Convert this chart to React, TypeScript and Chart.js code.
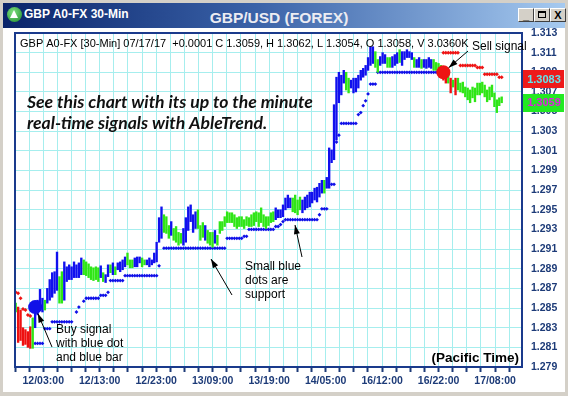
import React, { useEffect, useRef } from "react";
import { Chart, registerables } from "chart.js";

Chart.register(...registerables);

// ---------------- DATA ----------------
const X_TICK_LABELS = ["12/03:00", "12/13:00", "12/23:00", "13/09:00", "13/19:00", "14/05:00", "16/12:00", "16/22:00", "17/08:00"];
const Y_TICKS = [1.279, 1.281, 1.283, 1.285, 1.287, 1.289, 1.291, 1.293, 1.295, 1.297, 1.299, 1.301, 1.303, 1.305, 1.307, 1.309, 1.311, 1.313];

const HIGH = [
  1.2855, 1.2851, 1.2848, 1.2830, 1.2828, 1.2826, 1.2831, 1.2840, 1.2846, 1.2858,
  1.2869, 1.2860, 1.2858, 1.2870, 1.2879, 1.2886, 1.2887, 1.2907, 1.2882, 1.2887,
  1.2897, 1.2892, 1.2894, 1.2892, 1.2897, 1.2894, 1.2896, 1.2901, 1.2899, 1.2897,
  1.2895, 1.2892, 1.2891, 1.2892, 1.2891, 1.2893, 1.2886, 1.2884, 1.2894, 1.2894,
  1.2896, 1.2892, 1.2896, 1.2897, 1.2899, 1.2902, 1.2906, 1.2899, 1.2899, 1.2901,
  1.2902, 1.2902, 1.2901, 1.2899, 1.2899, 1.2901, 1.2899, 1.2906, 1.2917, 1.2942,
  1.2953, 1.2945, 1.2943, 1.2934, 1.2938, 1.2931, 1.2933, 1.2927, 1.2926, 1.2931,
  1.2942, 1.2953, 1.2955, 1.2945, 1.2948, 1.2950, 1.2934, 1.2937, 1.2934, 1.2929,
  1.2927, 1.2927, 1.2929, 1.2924, 1.2938, 1.2938, 1.2943, 1.2948, 1.2947, 1.2947,
  1.2945, 1.2942, 1.2943, 1.2943, 1.2940, 1.2943, 1.2942, 1.2945, 1.2947, 1.2948,
  1.2947, 1.2952, 1.2945, 1.2943, 1.2943, 1.2947, 1.2948, 1.2952, 1.2950, 1.2950,
  1.2955, 1.2962, 1.2965, 1.2962, 1.2962, 1.2965, 1.2960, 1.2963, 1.2960, 1.2963,
  1.2965, 1.2968, 1.2968, 1.2972, 1.2973, 1.2977, 1.2980, 1.2980, 1.2983, 1.3013,
  1.3011, 1.3057, 1.3085, 1.3090, 1.3087, 1.3092, 1.3090, 1.3084, 1.3082, 1.3084,
  1.3084, 1.3087, 1.3092, 1.3094, 1.3097, 1.3105, 1.3116, 1.3116, 1.3111, 1.3103,
  1.3106, 1.3110, 1.3108, 1.3105, 1.3105, 1.3106, 1.3108, 1.3110, 1.3113, 1.3111,
  1.3111, 1.3113, 1.3111, 1.3110, 1.3105, 1.3103, 1.3105, 1.3103, 1.3103, 1.3103,
  1.3105, 1.3103, 1.3103, 1.3100, 1.3099, 1.3097, 1.3092, 1.3089, 1.3087, 1.3084,
  1.3082, 1.3084, 1.3084, 1.3079, 1.3080, 1.3075, 1.3074, 1.3072, 1.3075, 1.3074,
  1.3079, 1.3079, 1.3080, 1.3077, 1.3072, 1.3075, 1.3077, 1.3069, 1.3062, 1.3064,
  1.3065,
];

const LOW = [
  1.2846, 1.2815, 1.2817, 1.2812, 1.2813, 1.2810, 1.2809, 1.2809, 1.2830, 1.2843,
  1.2848, 1.2846, 1.2848, 1.2855, 1.2858, 1.2861, 1.2865, 1.2868, 1.2855, 1.2855,
  1.2858, 1.2877, 1.2879, 1.2879, 1.2881, 1.2881, 1.2881, 1.2884, 1.2884, 1.2883,
  1.2881, 1.2879, 1.2878, 1.2879, 1.2877, 1.2881, 1.2877, 1.2876, 1.2882, 1.2886,
  1.2884, 1.2884, 1.2889, 1.2887, 1.2889, 1.2892, 1.2894, 1.2891, 1.2891, 1.2892,
  1.2892, 1.2896, 1.2892, 1.2894, 1.2894, 1.2892, 1.2894, 1.2896, 1.2897, 1.2917,
  1.2921, 1.2927, 1.2926, 1.2921, 1.2924, 1.2919, 1.2917, 1.2914, 1.2916, 1.2914,
  1.2917, 1.2929, 1.2938, 1.2927, 1.2931, 1.2931, 1.2919, 1.2922, 1.2919, 1.2916,
  1.2914, 1.2912, 1.2916, 1.2914, 1.2926, 1.2929, 1.2933, 1.2937, 1.2937, 1.2937,
  1.2933, 1.2931, 1.2933, 1.2933, 1.2931, 1.2934, 1.2933, 1.2933, 1.2934, 1.2938,
  1.2933, 1.2937, 1.2933, 1.2931, 1.2934, 1.2937, 1.2938, 1.2940, 1.2942, 1.2942,
  1.2943, 1.2950, 1.2952, 1.2952, 1.2948, 1.2947, 1.2945, 1.2950, 1.2947, 1.2950,
  1.2952, 1.2953, 1.2957, 1.2960, 1.2958, 1.2963, 1.2967, 1.2967, 1.2972, 1.2972,
  1.2998, 1.3001, 1.3021, 1.3059, 1.3067, 1.3079, 1.3072, 1.3069, 1.3074, 1.3069,
  1.3070, 1.3074, 1.3082, 1.3085, 1.3087, 1.3092, 1.3097, 1.3099, 1.3095, 1.3090,
  1.3097, 1.3099, 1.3099, 1.3095, 1.3095, 1.3095, 1.3097, 1.3099, 1.3100, 1.3097,
  1.3103, 1.3105, 1.3105, 1.3103, 1.3095, 1.3095, 1.3095, 1.3094, 1.3095, 1.3094,
  1.3095, 1.3094, 1.3092, 1.3092, 1.3090, 1.3087, 1.3082, 1.3079, 1.3079, 1.3069,
  1.3075, 1.3067, 1.3072, 1.3070, 1.3069, 1.3065, 1.3062, 1.3059, 1.3064, 1.3060,
  1.3067, 1.3067, 1.3069, 1.3065, 1.3060, 1.3062, 1.3065, 1.3055, 1.3049, 1.3056,
  1.3059,
];

// G = green (neutral), R = red (down), B = blue (up)
const BAR_SIGNALS = (
  "G" + "RRRRRR" + "G" + "BBBB" + "G" + "BBBBB" + "GG" + "BBBBBBBB" + "GGGGGGG" + "B" + "G" + "BB" + "G" + "B" + "G" +
  "BBBB" + "GGG" + "BBB" + "GG" + "BBBBBBB" + "GGG" + "B" + "GGGG" + "BBBBBB" + "GGG" + "B" + "GGG" + "B" +
  "GGGGGGGGGGGGGGGGGGGGGGGG" + "BBBBBBB" + "GGGG" + "BBBBBBBBB" + "G" + "BBBBBBBB" + "GG" + "BBBBBBBBBB" + "GG" +
  "BBB" + "GG" + "BBB" + "G" + "BBBBB" + "G" + "BB" + "G" + "BBBB" + "GGGG" + "RR" + "G" + "R" + "G" + "R" +
  "GGGGGGGGGGGGGGGGGGG"
).split("");

// [first bar, last bar, price] of the small blue support dots
const SUPPORT_RUNS = [
  [8, 11, 1.2814], [12, 14, 1.2829], [15, 23, 1.2836], [25, 25, 1.2846], [26, 26, 1.2851],
  [28, 28, 1.2857], [29, 34, 1.2860], [35, 37, 1.2863], [38, 38, 1.2866], [39, 44, 1.2878],
  [45, 58, 1.2883], [59, 59, 1.2893], [61, 86, 1.2911], [87, 93, 1.2921], [94, 95, 1.2923],
  [96, 106, 1.2930], [107, 108, 1.2933], [109, 109, 1.2935], [110, 110, 1.2938], [111, 124, 1.2940],
  [125, 125, 1.2945], [126, 128, 1.2951], [130, 131, 1.2976], [132, 132, 1.3019], [133, 133, 1.3026],
  [134, 140, 1.3038], [141, 141, 1.3047], [142, 142, 1.3049], [143, 143, 1.3056], [144, 144, 1.3061],
  [145, 145, 1.3068], [146, 148, 1.3078], [149, 174, 1.3090],
];

// [first bar, last bar, price] of the small red resistance dots
const RESIST_RUNS = [
  [0, 0, 1.2866], [1, 1, 1.2865], [2, 2, 1.2860], [3, 3, 1.2849], [4, 4, 1.2848], [5, 5, 1.2843],
  [6, 6, 1.2842], [176, 182, 1.3110], [183, 189, 1.3097], [190, 192, 1.3095], [193, 198, 1.3088],
  [199, 200, 1.3085],
];

const BUY_SIGNAL = [8, 1.2851];
const SELL_SIGNAL = [176, 1.309];
const PRICE_TAGS = [1.3083, 1.3059];

const HEADER_TEXT = "GBP A0-FX [30-Min] 07/17/17  +0.0001 C 1.3059, H 1.3062, L 1.3054, O 1.3058, V 3.0360K";
const PROMO_LINES = ["See this chart with its up to the minute", "real-time signals with AbleTrend."];
const BUY_NOTE = ["Buy signal", "with blue dot", "and blue bar"];
const SUPPORT_NOTE = ["Small blue", "dots are", "support"];
const SELL_NOTE = "Sell signal";
const TIME_NOTE = "(Pacific Time)";
const WINDOW_TITLE = "GBP A0-FX 30-Min";
const CHART_TITLE = "GBP/USD (FOREX)";

// ---------------- STYLE / LAYOUT ----------------
const FONT = "'Liberation Sans', Arial, sans-serif";
const NAVY = "#1d3b78";
const BORDER = "#1a3a8c";
const GRID = "#a6eeee";
const COLORS: Record<string, string> = { G: "#2fe616", R: "#ee1010", B: "#1010ee" };
const DOT_BLUE = "#1010e8";
const DOT_RED = "#ee1414";
const TAG_STYLES = [
  { bg: "#ee1a1a", fg: "#62e4ec" },
  { bg: "#22ea22", fg: "#e020e0" },
];

const BAR_PX = 2.43;
const TICK_PX = 14.12;
const PLOT_W = 507;
const X_MIN = -0.29;
const X_MAX = X_MIN + PLOT_W / BAR_PX;
const TICK_BARS = TICK_PX / BAR_PX;
const N_TICKS = 36;

const runsToPoints = (runs: number[][]) =>
  runs.flatMap(([a, b, v]) => Array.from({ length: b - a + 1 }, (_, k) => ({ x: a + k, y: v })));

function arrow(ctx: CanvasRenderingContext2D, x1: number, y1: number, x2: number, y2: number) {
  ctx.beginPath();
  ctx.moveTo(x1, y1);
  ctx.lineTo(x2, y2);
  ctx.stroke();
  const ang = Math.atan2(y2 - y1, x2 - x1);
  const L = 9, W = 3;
  ctx.beginPath();
  ctx.moveTo(x2, y2);
  ctx.lineTo(x2 - L * Math.cos(ang) + W * Math.sin(ang), y2 - L * Math.sin(ang) - W * Math.cos(ang));
  ctx.lineTo(x2 - L * Math.cos(ang) - W * Math.sin(ang), y2 - L * Math.sin(ang) + W * Math.cos(ang));
  ctx.closePath();
  ctx.fill();
}

const overlayPlugin = {
  id: "overlay",
  afterDraw(chart: any) {
    const { ctx, chartArea: a, scales } = chart;
    const xs = scales.x, ys = scales.y;
    ctx.save();

    // plot frame
    ctx.strokeStyle = BORDER;
    ctx.lineWidth = 2;
    ctx.strokeRect(a.left, a.top, a.right - a.left, a.bottom - a.top);

    // header
    ctx.fillStyle = "#000";
    ctx.textBaseline = "middle";
    ctx.textAlign = "left";
    ctx.font = `11px ${FONT}`;
    ctx.fillText(HEADER_TEXT, a.left + 5, a.top + 11);

    // promo text (fit to width)
    let fs = 19;
    ctx.font = `italic bold ${fs}px Lato, ${FONT}`;
    const w0 = ctx.measureText(PROMO_LINES[0]).width;
    fs = Math.min(21, (fs * 286) / w0);
    ctx.font = `italic bold ${fs}px Lato, ${FONT}`;
    ctx.fillStyle = "#111";
    ctx.fillText(PROMO_LINES[0], a.left + 12, a.top + 69);
    ctx.fillText(PROMO_LINES[1], a.left + 12, a.top + 90);

    // notes
    ctx.fillStyle = "#000";
    ctx.strokeStyle = "#000";
    ctx.lineWidth = 1;
    ctx.font = `12px ${FONT}`;
    BUY_NOTE.forEach((t, i) => ctx.fillText(t, a.left + 41, a.top + 297 + i * 14));
    SUPPORT_NOTE.forEach((t, i) => ctx.fillText(t, a.left + 230, a.top + 234 + i * 14));
    ctx.fillText(SELL_NOTE, a.left + 457, a.top + 14);

    // arrows to signals
    const bx = xs.getPixelForValue(BUY_SIGNAL[0]), by = ys.getPixelForValue(BUY_SIGNAL[1]);
    {
      const tx = a.left + 37, ty = a.top + 314;
      const d = Math.hypot(bx - tx, by - ty);
      arrow(ctx, tx, ty, bx - ((bx - tx) / d) * 7, by - ((by - ty) / d) * 7);
    }
    const sx = xs.getPixelForValue(SELL_SIGNAL[0]), sy = ys.getPixelForValue(SELL_SIGNAL[1]);
    {
      const tx = a.left + 453, ty = a.top + 18;
      const d = Math.hypot(sx - tx, sy - ty);
      arrow(ctx, tx, ty, sx - ((sx - tx) / d) * 7, sy - ((sy - ty) / d) * 7);
    }
    arrow(ctx, a.left + 217, a.top + 262, a.left + 196, a.top + 226);
    arrow(ctx, a.left + 287, a.top + 224, a.left + 280, a.top + 192);

    // (Pacific Time)
    ctx.textAlign = "right";
    ctx.font = `bold 13.5px ${FONT}`;
    ctx.fillText(TIME_NOTE, a.right - 3, a.bottom - 9);

    // price tags on the axis
    ctx.textAlign = "center";
    ctx.font = `bold 11px ${FONT}`;
    PRICE_TAGS.forEach((v, i) => {
      const py = ys.getPixelForValue(v);
      const st = TAG_STYLES[i];
      ctx.fillStyle = st.bg;
      ctx.fillRect(a.right + 1, Math.round(py - 9), 41, 18);
      ctx.fillStyle = st.fg;
      ctx.fillText(v.toFixed(4), a.right + 22, py + 0.5);
    });
    ctx.restore();
  },
};

export default function App() {
  const ref = useRef<HTMLCanvasElement>(null);

  useEffect(() => {
    const bars = HIGH.map((h, i) => ({ x: i, y: [LOW[i], h] }));
    const chart = new Chart(ref.current as HTMLCanvasElement, {
      type: "bar",
      data: {
        datasets: [
          {
            type: "line",
            data: runsToPoints(SUPPORT_RUNS),
            showLine: false,
            pointStyle: "rectRot",
            pointRadius: 1.9,
            pointBorderWidth: 0,
            pointBackgroundColor: DOT_BLUE,
            order: 3,
          } as any,
          {
            type: "line",
            data: runsToPoints(RESIST_RUNS),
            showLine: false,
            pointStyle: "rectRot",
            pointRadius: 2,
            pointBorderWidth: 0,
            pointBackgroundColor: DOT_RED,
            order: 3,
          } as any,
          {
            type: "bar",
            data: bars,
            backgroundColor: BAR_SIGNALS.map((c) => COLORS[c]),
            barThickness: 1.7,
            borderWidth: 0,
            grouped: false,
            order: 2,
          } as any,
          {
            type: "line",
            data: [{ x: BUY_SIGNAL[0], y: BUY_SIGNAL[1] }],
            showLine: false,
            pointRadius: 7,
            pointBorderWidth: 0,
            pointBackgroundColor: DOT_BLUE,
            order: 0,
          } as any,
          {
            type: "line",
            data: [{ x: SELL_SIGNAL[0], y: SELL_SIGNAL[1] }],
            showLine: false,
            pointRadius: 7,
            pointBorderWidth: 0,
            pointBackgroundColor: DOT_RED,
            order: 0,
          } as any,
        ],
      },
      options: {
        responsive: false,
        animation: false,
        devicePixelRatio: 1,
        layout: { padding: { left: 15, top: 33, right: 0, bottom: 0 } },
        plugins: { legend: { display: false }, tooltip: { enabled: false } },
        events: [],
        scales: {
          x: {
            type: "linear",
            min: X_MIN,
            max: X_MAX,
            offset: false,
            afterBuildTicks: (s: any) => {
              s.ticks = Array.from({ length: N_TICKS }, (_, k) => ({ value: X_MIN + k * TICK_BARS }));
            },
            afterFit: (s: any) => {
              s.height = 29;
            },
            grid: { color: GRID, lineWidth: 1, drawTicks: true, tickLength: 5, tickColor: NAVY, tickWidth: 2, offset: false },
            border: { display: false },
            ticks: {
              autoSkip: false,
              maxRotation: 0,
              minRotation: 0,
              padding: 3,
              color: NAVY,
              font: { family: FONT, size: 10.5, weight: "bold" },
              callback: (_v: any, idx: number) =>
                idx >= 2 && (idx - 2) % 4 === 0 ? X_TICK_LABELS[(idx - 2) / 4] ?? "" : "",
            },
          },
          y: {
            type: "linear",
            position: "right",
            min: Y_TICKS[0],
            max: Y_TICKS[Y_TICKS.length - 1],
            afterBuildTicks: (s: any) => {
              s.ticks = Y_TICKS.map((v) => ({ value: v }));
            },
            afterFit: (s: any) => {
              s.width = 46;
            },
            grid: { color: GRID, lineWidth: 1, drawTicks: false },
            border: { display: false },
            ticks: {
              padding: 9,
              color: NAVY,
              font: { family: FONT, size: 10.5, weight: "bold" },
              callback: (v: any) => Number(v).toFixed(3),
            },
          },
        } as any,
      },
      plugins: [overlayPlugin],
    } as any);
    return () => chart.destroy();
  }, []);

  const btn: React.CSSProperties = {
    position: "absolute",
    top: 5,
    width: 16,
    height: 14,
    background: "#d4d0c8",
    borderTop: "1px solid #fff",
    borderLeft: "1px solid #fff",
    borderRight: "1px solid #404040",
    borderBottom: "1px solid #404040",
    boxSizing: "border-box",
    color: "#000",
    font: `bold 11px ${FONT}`,
    textAlign: "center",
    lineHeight: "12px",
  };

  return (
    <div
      style={{
        position: "fixed",
        left: 0,
        top: 0,
        width: 568,
        height: 396,
        background: "#d4d0c8",
        overflow: "hidden",
        fontFamily: FONT,
      }}
    >
      <div style={{ position: "absolute", left: 3, top: 28, width: 562, height: 364, background: "#fff" }} />
      <canvas
        ref={ref}
        width={568}
        height={396}
        style={{ position: "absolute", left: 0, top: 0, width: 568, height: 396 }}
      />
      <div
        style={{
          position: "absolute",
          left: 3,
          top: 3,
          width: 562,
          height: 25,
          background: "linear-gradient(90deg, #0a246a 0%, #3a62a8 45%, #a6caf0 100%)",
        }}
      >
        <div
          style={{
            position: "absolute",
            left: 4,
            top: 4,
            width: 15,
            height: 15,
            borderRadius: "50%",
            background: "radial-gradient(circle at 40% 35%, #7fe07f, #1c8a2c)",
          }}
        >
          <div
            style={{
              position: "absolute",
              left: 3,
              top: 3,
              width: 0,
              height: 0,
              borderLeft: "4.5px solid transparent",
              borderRight: "4.5px solid transparent",
              borderBottom: "8px solid #fff",
            }}
          />
        </div>
        <div
          style={{
            position: "absolute",
            left: 21,
            top: 3,
            color: "#fff",
            font: `bold 12px ${FONT}`,
            lineHeight: "16px",
            whiteSpace: "nowrap",
          }}
        >
          {WINDOW_TITLE}
        </div>
        <div
          style={{
            position: "absolute",
            left: 276,
            top: 6,
            transform: "translateX(-50%)",
            color: "#ececf2",
            font: `bold 15.5px ${FONT}`,
            lineHeight: "18px",
            whiteSpace: "nowrap",
          }}
        >
          {CHART_TITLE}
        </div>
        <div style={{ ...btn, left: 515 }}>_</div>
        <div style={{ ...btn, left: 531 }}>
          <div style={{ position: "absolute", left: 3, top: 2, width: 8, height: 7, border: "1px solid #000", borderTopWidth: 2, boxSizing: "border-box" }} />
        </div>
        <div style={{ ...btn, left: 547 }}>X</div>
      </div>
    </div>
  );
}
